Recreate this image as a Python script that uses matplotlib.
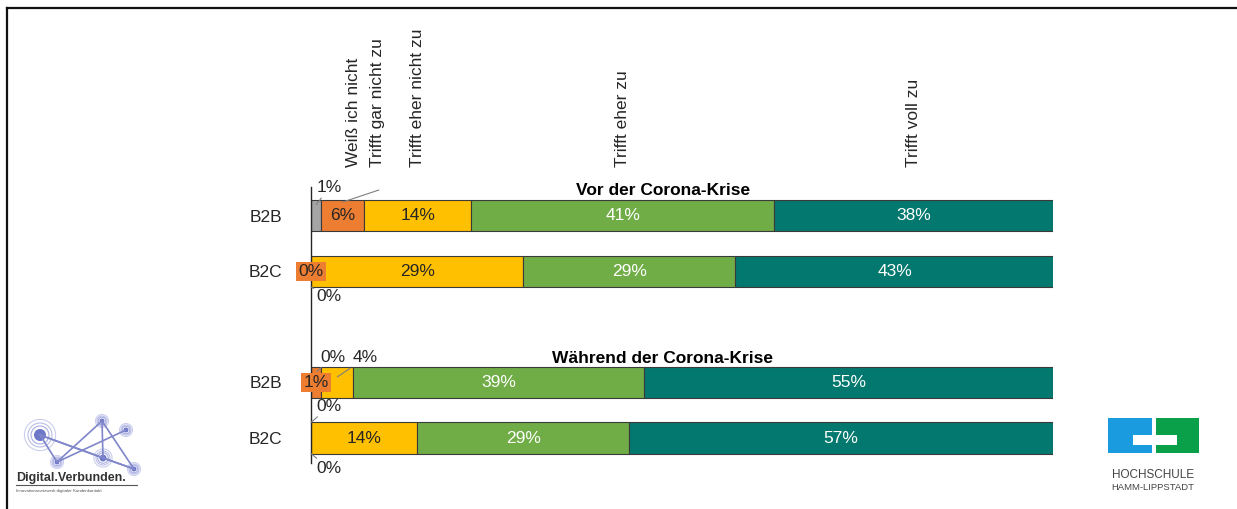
"""Stacked horizontal bars: Zustimmung B2B / B2C vor und waehrend der Corona-Krise."""

import matplotlib

matplotlib.use("Agg")
import matplotlib.pyplot as plt  # noqa: E402
from matplotlib.patches import Circle, Rectangle  # noqa: E402

plt.rcParams["font.family"] = ["Liberation Sans", "DejaVu Sans"]

# --- data -----------------------------------------------------------------
CATEGORIES = [
    "Weiß ich nicht",
    "Trifft gar nicht zu",
    "Trifft eher nicht zu",
    "Trifft eher zu",
    "Trifft voll zu",
]
ROW_LABELS = ["B2B", "B2C", "B2B", "B2C"]
ROW_POS = [0, 1, 3, 4]
GROUP_TITLES = ["Vor der Corona-Krise", "Während der Corona-Krise"]

# percentages per category, one value per row (B2B vor, B2C vor, B2B waehrend, B2C waehrend)
weiss_nicht = [1.4, 0.0, 0.0, 0.0]
gar_nicht = [5.8, 0.0, 1.4, 0.0]
eher_nicht = [14.4, 28.6, 4.3, 14.3]
eher_zu = [40.8, 28.6, 39.2, 28.6]
voll_zu = [37.6, 42.9, 55.1, 57.1]
SERIES = [weiss_nicht, gar_nicht, eher_nicht, eher_zu, voll_zu]

COLORS = ["#A5A5A5", "#ED7D31", "#FFC000", "#70AD47", "#03786E"]
TEXT_COLORS = ["#262626", "#262626", "#262626", "white", "white"]
FS = 12.5

fig = plt.figure(figsize=(12.37, 5.09), dpi=100)
ax = fig.add_axes([311 / 1237, 46 / 509, 742 / 1237, 276 / 509])

left = [0.0] * len(ROW_POS)
for k, (vals, col) in enumerate(zip(SERIES, COLORS)):
    ax.barh(ROW_POS, vals, left=left, height=0.56, color=col,
            edgecolor="#3a3a3a", linewidth=0.8)
    for i, (y, v) in enumerate(zip(ROW_POS, vals)):
        if v >= 5:
            ax.text(left[i] + v / 2, y, f"{round(v)}%", ha="center", va="center",
                    fontsize=FS, color=TEXT_COLORS[k])
    left = [l + v for l, v in zip(left, vals)]

# small segments: orange boxes centred on the segment
for i, (y, v) in enumerate(zip(ROW_POS, gar_nicht)):
    if v < 3 and weiss_nicht[i] == 0 and (v > 0 or eher_nicht[i] > 20):
        ax.text(v / 2, y, f"{round(v)}%", ha="center", va="center", fontsize=FS,
                color="#262626", zorder=5,
                bbox=dict(boxstyle="square,pad=0.12", fc=COLORS[1], ec="none"))

line_kw = dict(arrowstyle="-", color="#7f7f7f", lw=0.8, shrinkA=0, shrinkB=0)


def leader(label, x, y, dx, dy):
    ax.annotate(label, xy=(x, y), xytext=(dx, dy), textcoords="offset pixels",
                ha="center", va="center", fontsize=FS, color="#262626",
                arrowprops=line_kw, annotation_clip=False)


# row 1 (B2B vor)
leader(f"{round(weiss_nicht[0])}%", weiss_nicht[0] / 2, -0.2, 13, 17)
ax.annotate("", xy=(weiss_nicht[0] + gar_nicht[0] / 2, -0.25), xytext=(36, 12),
            textcoords="offset pixels", arrowprops=line_kw, annotation_clip=False)
# row 2 (B2C vor)
leader(f"{round(weiss_nicht[1])}%", 0, 1.28, 18, -10)
# row 3 (B2B waehrend)
leader(f"{round(weiss_nicht[2])}%", 0.8, 2.8, 16, 14)
leader(f"{round(eher_nicht[2])}%", gar_nicht[2] + eher_nicht[2] / 2, 2.9, 28, 19)
# row 4 (B2C waehrend)
leader(f"{round(weiss_nicht[3])}%", 0, 3.72, 18, 16)
leader(f"{round(gar_nicht[3])}%", 0, 4.28, 18, -15)

# category names above the first bar
centers = []
acc = 0.0
for vals in SERIES:
    centers.append(acc + vals[0] / 2)
    acc += vals[0]
centers[0], centers[1] = 5.7, 8.9
for c, name in zip(centers, CATEGORIES):
    ax.text(c, -0.88, name, rotation=90, ha="center", va="bottom", fontsize=FS,
            color="#262626")

ax.text(47.4, -0.45, GROUP_TITLES[0], ha="center", va="center", fontsize=FS,
        fontweight="bold")
ax.text(47.4, 2.56, GROUP_TITLES[1], ha="center", va="center", fontsize=FS,
        fontweight="bold")

ax.set_xlim(0, 100)
ax.set_ylim(4.45, -0.52)
ax.set_yticks(ROW_POS)
ax.set_yticklabels(ROW_LABELS, fontsize=FS, color="#262626")
ax.tick_params(axis="y", length=0, pad=21)
ax.set_xticks([])
for s in ("top", "right", "bottom"):
    ax.spines[s].set_visible(False)
ax.spines["left"].set_linewidth(1.0)
ax.spines["left"].set_color("#262626")

# --- frame and logos (pixel overlay) --------------------------------------
ov = fig.add_axes([0, 0, 1, 1], zorder=-1)
ov.set_xlim(0, 1237)
ov.set_ylim(509, 0)
ov.axis("off")
ov.plot([7, 1237], [8, 8], color="#111111", lw=1.6)
ov.plot([7, 7], [8, 509], color="#111111", lw=1.6)

# Digital.Verbunden logo
nodes = [(40, 435, 6), (57, 462, 2.5), (102, 421, 2.5), (126, 430, 2.5),
         (103, 458, 3.5), (134, 469, 2.5)]
edges = [(0, 1), (1, 2), (2, 5), (0, 4), (1, 3), (4, 2), (4, 5), (0, 5)]
for a, b in edges:
    ov.plot([nodes[a][0], nodes[b][0]], [nodes[a][1], nodes[b][1]],
            color="#7f86c9", lw=1.2)
for x, y, r in nodes:
    for rr, al in ((r * 2.6, 0.15), (r * 2.0, 0.3), (r * 1.5, 0.45)):
        ov.add_patch(Circle((x, y), rr, fc="none", ec="#8c93d6", lw=0.8, alpha=al + 0.3))
    ov.add_patch(Circle((x, y), r, fc="#6f77c9", ec="none"))
ov.text(16, 478, "Digital.Verbunden.", fontsize=9, fontweight="bold",
        color="#333333", va="center", ha="left")
ov.plot([16, 137], [485, 485], color="#555555", lw=0.8)
ov.text(16, 491, "Innovationsnetzwerk digitaler Kundenkontakt", fontsize=3.2,
        color="#555555", va="center", ha="left")

# Hochschule Hamm-Lippstadt logo
ov.add_patch(Rectangle((1108, 418), 44, 35, fc="#1a9be0", ec="none"))
ov.add_patch(Rectangle((1156, 418), 43, 35, fc="#0aa04a", ec="none"))
ov.add_patch(Rectangle((1133, 435), 44, 10, fc="white", ec="none"))
ov.text(1153, 475, "HOCHSCHULE", fontsize=8.5, color="#444444",
        ha="center", va="center")
ov.text(1153, 487, "HAMM-LIPPSTADT", fontsize=6.8, color="#444444",
        ha="center", va="center")

fig.savefig("out.png", dpi=100)
